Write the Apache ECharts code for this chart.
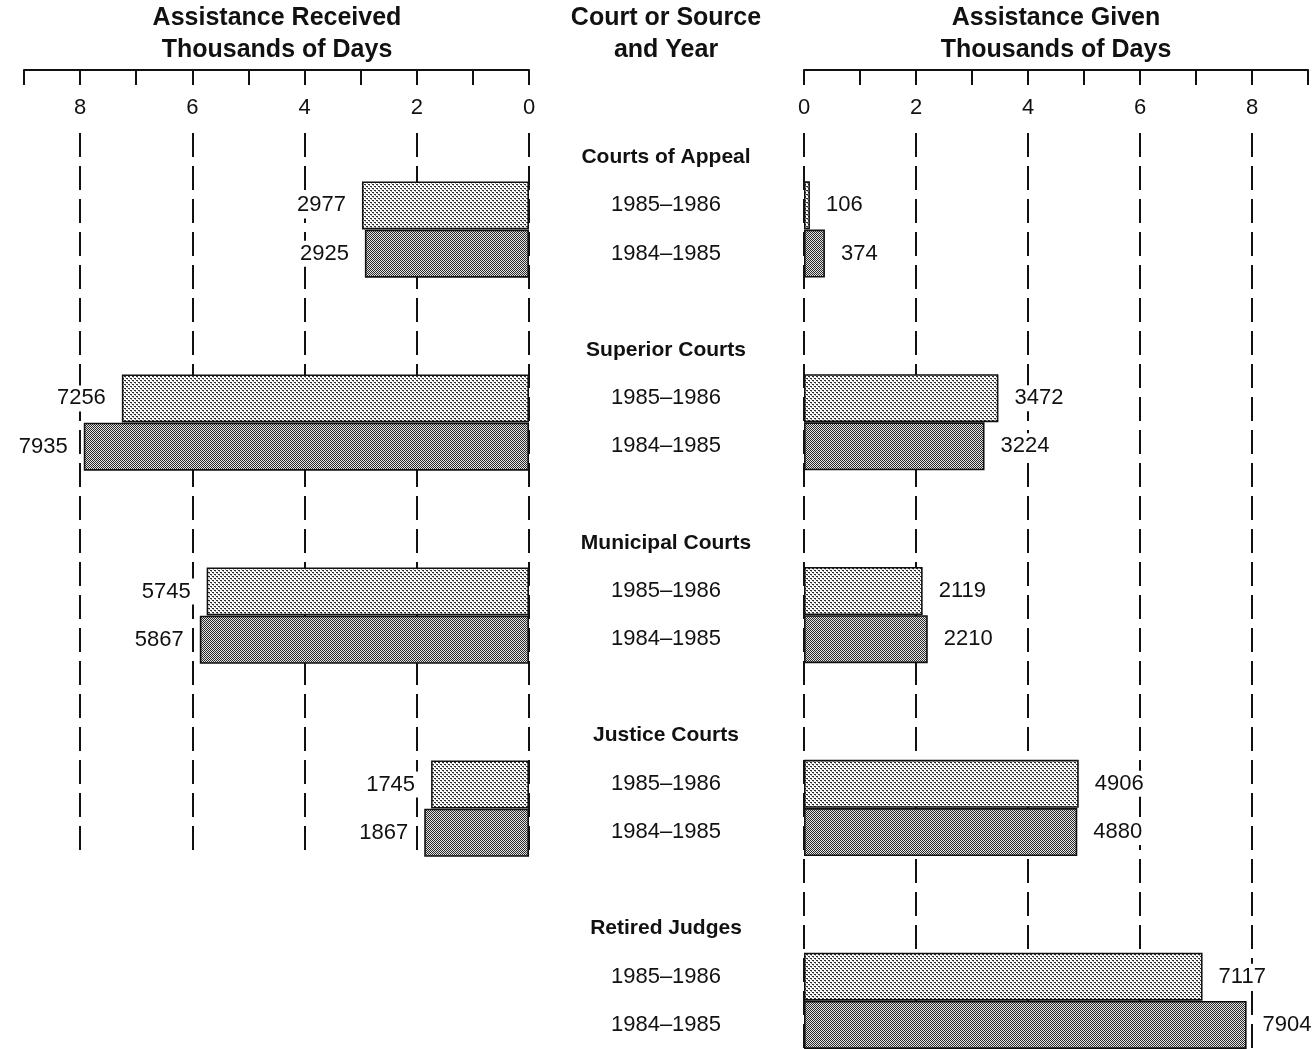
<!DOCTYPE html>
<html>
<head>
<meta charset="utf-8">
<script src="https://cdn.jsdelivr.net/npm/echarts@6/dist/echarts.min.js"></script>
<style>
html,body{margin:0;padding:0;background:#fff;}
#chart{width:1314px;height:1049px;}
</style>
</head>
<body>
<div id="chart"></div>
<script>
// ---- data ----
const groups = ['Courts of Appeal', 'Superior Courts', 'Municipal Courts', 'Justice Courts', 'Retired Judges'];
const years = ['1985–1986', '1984–1985'];
const received8586 = [2977, 7256, 5745, 1745, null];
const received8485 = [2925, 7935, 5867, 1867, null];
const given8586 = [106, 3472, 2119, 4906, 7117];
const given8485 = [374, 3224, 2210, 4880, 7904];
const tickLabels = [0, 2, 4, 6, 8];

// ---- rows (header, two years, spacer) ----
const rows = [];
groups.forEach((g, i) => {
  if (i > 0) rows.push({ label: '', type: 's' });
  rows.push({ label: g, type: 'h' });
  years.forEach((y, yi) => rows.push({ label: y, type: 'y', gi: i, yi: yi }));
});
const leftRows = rows.slice(0, 15);

function seriesData(rs, arr, yi) {
  return rs.map(r => (r.type === 'y' && r.yi === yi && arr[r.gi] != null) ? { value: arr[r.gi] / 1000, raw: arr[r.gi] } : null);
}

// ---- patterns ----
function makePattern(dark) {
  const c = document.createElement('canvas');
  const ctx = c.getContext('2d');
  if (dark) {
    c.width = 2; c.height = 2;
    ctx.fillStyle = '#e4e4e4'; ctx.fillRect(0, 0, 2, 2);
    ctx.fillStyle = '#2a2a2a'; ctx.fillRect(0, 0, 1, 1); ctx.fillRect(1, 1, 1, 1);
  } else {
    c.width = 4; c.height = 4;
    ctx.fillStyle = '#ffffff'; ctx.fillRect(0, 0, 4, 4);
    ctx.fillStyle = '#2a2a2a';
    ctx.fillRect(0, 0, 2, 1); ctx.fillRect(2, 2, 2, 1);
    ctx.fillStyle = '#9a9a9a';
    ctx.fillRect(1, 1, 1, 1); ctx.fillRect(3, 3, 1, 1);
  }
  return { image: c, repeat: 'repeat' };
}
const lightFill = makePattern(false);
const darkFill = makePattern(true);

const FONT = 'Liberation Sans';
const TOP = 133, ROWH = 48.26;

function tickAxis(gridIndex, inverse) {
  return {
    type: 'value', gridIndex: gridIndex, position: 'top', offset: 63,
    min: 0, max: 9, interval: 1, inverse: inverse,
    axisLine: { show: true, lineStyle: { color: '#111', width: 2 } },
    axisTick: { show: true, inside: true, length: 15, lineStyle: { color: '#111', width: 2 } },
    axisLabel: {
      show: true, inside: true, margin: 27,
      fontFamily: FONT, fontSize: 22, color: '#111',
      formatter: v => tickLabels.indexOf(v) >= 0 ? String(v) : ''
    },
    splitLine: { show: false }
  };
}
function gridAxis(gridIndex, inverse) {
  return {
    type: 'value', gridIndex: gridIndex, position: 'bottom',
    min: 0, max: 9, interval: 2, inverse: inverse,
    axisLine: { show: false }, axisTick: { show: false }, axisLabel: { show: false },
    splitLine: { show: true, showMaxLine: false, lineStyle: { color: '#111', width: 2, type: [24, 9] } }
  };
}

function barSeries(xi, yi, data, fill, side) {
  return {
    type: 'bar', xAxisIndex: xi, yAxisIndex: yi, data: data,
    barWidth: 48, barGap: '-100%',
    itemStyle: { color: fill, borderColor: '#111', borderWidth: 1.6 },
    label: {
      show: true, position: side, distance: 12,
      fontFamily: FONT, fontSize: 22, color: '#111',
      backgroundColor: '#fff', padding: [2, 4],
      formatter: p => p.data ? String(p.data.raw) : ''
    },
    animation: false
  };
}

const titleStyle = { fontFamily: FONT, fontSize: 25, fontWeight: 'bold', color: '#111', lineHeight: 32 };

const option = {
  animation: false,
  backgroundColor: '#fff',
  title: [
    { text: 'Assistance Received\nThousands of Days', left: 277, top: 2, padding: 0, textAlign: 'center', textStyle: titleStyle },
    { text: 'Court or Source\nand Year', left: 666, top: 2, padding: 0, textAlign: 'center', textStyle: titleStyle },
    { text: 'Assistance Given\nThousands of Days', left: 1056, top: 2, padding: 0, textAlign: 'center', textStyle: titleStyle }
  ],
  grid: [
    { left: 24, width: 505, top: TOP, height: ROWH * leftRows.length },
    { left: 804, width: 504, top: TOP, height: ROWH * rows.length }
  ],
  xAxis: [tickAxis(0, true), gridAxis(0, true), tickAxis(1, false), gridAxis(1, false)],
  yAxis: [
    {
      type: 'category', gridIndex: 0, inverse: true, data: leftRows.map(r => r.label),
      axisLine: { show: false }, axisTick: { show: false }, axisLabel: { show: false }, splitLine: { show: false }
    },
    {
      type: 'category', gridIndex: 1, inverse: true, data: rows.map(r => r.label),
      axisLine: { show: false }, axisTick: { show: false }, splitLine: { show: false },
      axisLabel: {
        show: true, margin: 138, align: 'center', interval: 0,
        formatter: (v, i) => {
          const r = rows[i];
          if (!r || r.type === 's') return '';
          return r.type === 'h' ? '{h|' + v + '}' : '{y|' + v + '}';
        },
        rich: {
          h: { fontFamily: FONT, fontSize: 21, fontWeight: 'bold', color: '#111' },
          y: { fontFamily: FONT, fontSize: 22, color: '#111' }
        }
      }
    }
  ],
  series: [
    barSeries(0, 0, seriesData(leftRows, received8586, 0), lightFill, 'left'),
    barSeries(0, 0, seriesData(leftRows, received8485, 1), darkFill, 'left'),
    barSeries(2, 1, seriesData(rows, given8586, 0), lightFill, 'right'),
    barSeries(2, 1, seriesData(rows, given8485, 1), darkFill, 'right')
  ]
};

const chart = echarts.init(document.getElementById('chart'), null, { renderer: 'canvas' });
chart.setOption(option);
</script>
</body>
</html>
